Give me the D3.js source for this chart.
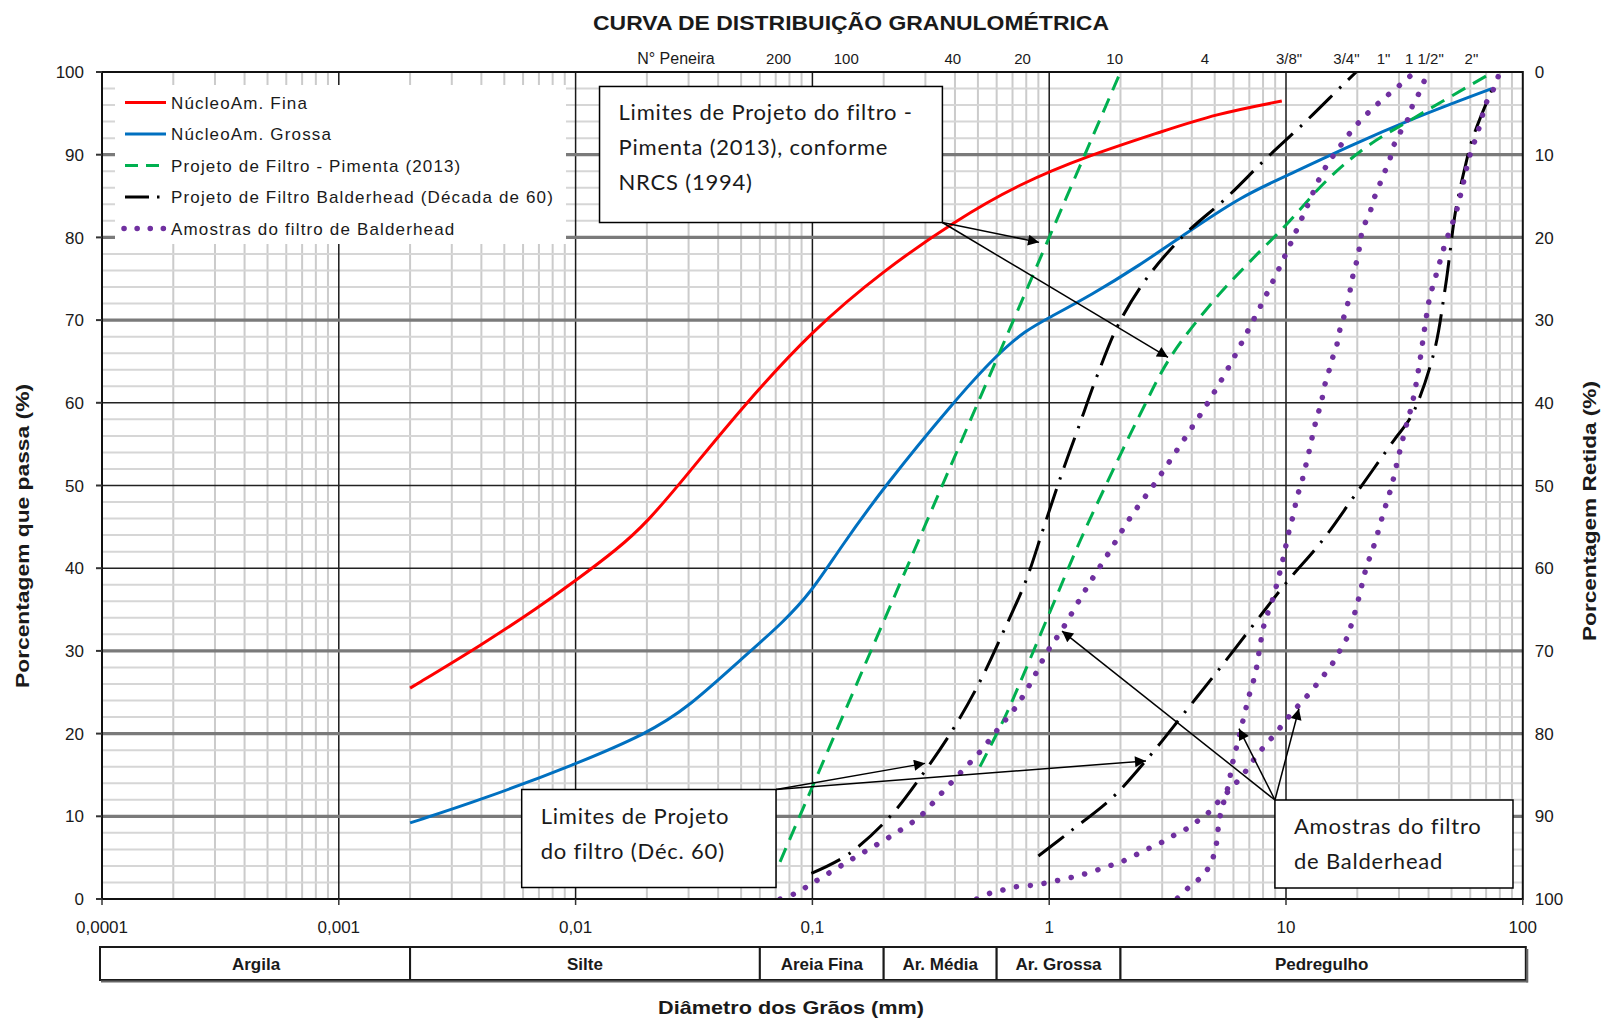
<!DOCTYPE html>
<html>
<head>
<meta charset="utf-8">
<script src="https://cdn.jsdelivr.net/npm/d3@7"></script>
<style>
  body { margin: 0; background: #fff; }
  text { font-family: "Liberation Sans", Arial, sans-serif; fill: #1a1a1a; }
  .note text { font-family: Lato, "Open Sans", sans-serif; font-size: 22px; letter-spacing: 0.8px; }
</style>
</head>
<body>
<div id="chart"></div>
<script>
"use strict";

// ---- data: diametro (mm), porcentagem que passa (%) ----
var nucleoFina = [[0.002,25.5],[0.004,30.7],[0.007,35.3],[0.01,38.5],[0.015,42.3],[0.02,45.5],[0.03,51.5],
  [0.05,59.3],[0.1,68.8],[0.2,76],[0.4,82],[0.75,86.5],[1.5,90],[3,92.8],[5,94.9],[9.6,96.5]];

var nucleoGrossa = [[0.002,9.2],[0.004,12],[0.01,16.3],[0.02,20],[0.03,23.2],[0.05,29],
  [0.075,33.4],[0.1,37.3],[0.13,42.3],[0.2,49.8],[0.4,60.3],[0.6,65.8],[0.8,68.8],[1.0,70.3],
  [1.5,73],[2.4,76.6],[3.7,80.3],[6.5,85],[10,87.4],[18,90.9],[35,94.5],[74,98]];

var pimentaFino = [[0.073,4.5],[1.0,80],[2.0,100]];

var pimentaGrosso = [[0.51,16],[0.65,22],[0.77,26.8],[1.0,34.5],[1.36,43.5],[1.72,49.8],[2.41,58.5],
  [3.25,65.5],[5,72.5],[7,77],[10,81.5],[15,87],[22,91],[35,94.5],[75,100]];

var balderFino = [[0.099,3.1],[0.14,5.3],[0.21,9.8],[0.294,15.2],[0.394,20.6],[0.51,26.3],[0.64,32.3],
  [0.8,38.6],[0.945,44.8],[1.12,51.1],[1.34,57.3],[1.61,63.6],[1.97,69.6],[2.62,75.3],[3.72,80.3],
  [5.56,84.7],[8.15,89.4],[12,93.9],[17.6,98.6],[19.8,100]];

var balderGrosso = [[0.9,5.2],[1.23,8.2],[1.87,12.4],[2.66,17.3],[3.72,22.5],[5.19,27.7],[7.26,33.1],
  [10,38.2],[14.2,43.3],[19.4,48.7],[28.6,55.5],[34,58.5],[42,65.9],[47.1,74],[52.1,83.3],
  [56.6,88.1],[61.6,92.1],[74,97.8]];

var amostra1 = [[0.073,0],[0.085,0.7],[0.096,1.6],[0.108,2.5],[0.137,4.3],[0.175,6.1],[0.223,7.9],
  [0.285,10],[0.346,12.6],[0.42,15.2],[0.51,17.8],[0.61,20.6],[0.735,23.5],[0.849,26.5],[0.977,29.8],
  [1.135,32.6],[1.41,37.2],[1.77,41.7],[2.21,46.2],[2.83,50.5],[3.6,55],[4.54,59.4],[5.65,64],
  [6.9,68.7],[8.4,73.5],[10.06,78.2],[12,83.1],[14.3,87.9],[16.7,90.8],[20,93.7],[24.5,96.2],
  [30.5,98.5],[34,99.7]];

var amostra2 = [[0.494,0],[0.563,0.7],[0.64,1.1],[0.73,1.5],[0.869,1.7],[0.993,2.0],[1.15,2.4],
  [1.32,2.8],[1.52,3.3],[1.74,3.9],[1.98,4.4],[2.27,5.2],[2.58,6.0],[2.92,6.7],[3.31,7.6],[3.76,8.4],
  [4.22,9.4],[4.73,10.5],[5.19,11.8],[5.74,13.1],[6.31,14.4],[6.9,15.8],[7.5,17.3],[8.24,18.7],
  [9.02,20],[9.86,21.4],[10.8,22.8],[11.9,24.1],[13.0,25.4],[14.2,26.8],[15.5,28.2],[16.7,29.8],
  [17.9,31.3],[18.8,33],[20.3,36.4],[21.7,39.8],[23.8,43.2],[25.8,46.7],[27.9,49.9],[29.8,53.4],
  [31.9,56.8],[34.3,60.2],[36.5,64.5],[38.6,69.2],[40.3,72.5],[43.4,75.8],[47.1,79.3],[52.1,82.9],
  [55.7,86.2],[59.2,89.5],[64.8,92.9],[70.4,96.4],[76,98.2],[79,99.6]];

var amostra3 = [[3.48,0.1],[3.85,1.3],[4.29,2.4],[4.7,3.75],[4.97,5.4],[5.11,7.1],[5.19,8.9],
  [5.32,10.6],[5.52,12.2],[5.74,14],[5.9,16],[6.1,17.7],[6.31,19.4],[6.52,21.1],[6.74,22.8],
  [6.97,24.5],[7.26,26.2],[7.5,27.9],[7.76,30.5],[8.07,33.1],[8.43,34.8],[8.87,36.6],[9.17,38.2],
  [9.48,39.8],[9.8,41.6],[10.07,43.2],[10.4,45],[10.8,46.7],[11.1,48.5],[11.6,50.2],[12,51.9],
  [12.4,53.6],[12.8,55.4],[13.2,57.1],[13.7,58.8],[14.2,60.5],[14.6,62.2],[15.2,63.9],[15.8,65.6],
  [16.5,67.3],[17,69.2],[17.7,70.7],[18.4,72.5],[18.8,74.2],[19.4,76],[20.1,77.6],[20.6,79.5],
  [21.1,81.1],[22.5,82.8],[23.4,84.5],[24.7,86.2],[26,87.8],[27.4,89.4],[28.6,91.2],[30.5,92.8],
  [32.7,94.3],[34.3,96],[36.7,97.6],[38.8,99.3]];

var legendLabels = ["NúcleoAm. Fina", "NúcleoAm. Grossa", "Projeto de Filtro - Pimenta (2013)",
  "Projeto de Filtro Balderhead (Década de 60)", "Amostras do filtro de Balderhead"];

// sieve numbers and where their labels sit on the diameter axis (mm)
var sieveLabels = ["200", "100", "40", "20", "10", "4", "3/8\"", "3/4\"", "1\"", "1 1/2\"", "2\""];
var sieveLabelAt = [0.072, 0.139, 0.392, 0.772, 1.89, 4.55, 10.3, 18, 25.8, 38.4, 60.7];

var xTickValues = [0.0001, 0.001, 0.01, 0.1, 1, 10, 100];
var xTickLabels = ["0,0001", "0,001", "0,01", "0,1", "1", "10", "100"];
var yTickValues = [0, 10, 20, 30, 40, 50, 60, 70, 80, 90, 100];

var soilClasses = ["Argila", "Silte", "Areia Fina", "Ar. Média", "Ar. Grossa", "Pedregulho"];
var soilLimits = [0.0001, 0.002, 0.06, 0.2, 0.6, 2, 100];

// ---- layout ----
var width = 1607, height = 1022;
var plot = { left: 102, right: 1522.8, top: 72, bottom: 899 };

var x = d3.scaleLog().domain([0.0001, 100]).range([plot.left, plot.right]);
var y = d3.scaleLinear().domain([0, 100]).range([plot.bottom, plot.top]);

var styles = {
  fina:    { stroke: "#ff0000", width: 3, dash: null, cap: "butt", smooth: true },
  grossa:  { stroke: "#0070c0", width: 3, dash: null, cap: "butt", smooth: true },
  pimenta: { stroke: "#00b050", width: 3, dash: "15,9", cap: "butt" },
  balder:  { stroke: "#000000", width: 3, dash: "32,10,2.5,10", cap: "butt" },
  amostra: { stroke: "#7030a0", width: 5.5, dash: "0.1,13.8", cap: "round" }
};
var legendStyles = ["fina", "grossa", "pimenta", "balder", "amostra"];

var series = [
  { data: nucleoFina, style: "fina" },
  { data: nucleoGrossa, style: "grossa" },
  { data: pimentaFino, style: "pimenta" },
  { data: pimentaGrosso, style: "pimenta" },
  { data: balderFino, style: "balder" },
  { data: balderGrosso, style: "balder" },
  { data: amostra1, style: "amostra" },
  { data: amostra2, style: "amostra" },
  { data: amostra3, style: "amostra" }
];

var svg = d3.select("#chart").append("svg")
  .attr("width", width)
  .attr("height", height)
  .style("display", "block");

var defs = svg.append("defs");
defs.append("clipPath").attr("id", "plotclip")
  .append("rect")
  .attr("x", plot.left).attr("y", plot.top)
  .attr("width", plot.right - plot.left).attr("height", plot.bottom - plot.top);
defs.append("marker")
  .attr("id", "arrow")
  .attr("viewBox", "0 0 10 10")
  .attr("refX", 10).attr("refY", 5)
  .attr("markerUnits", "userSpaceOnUse")
  .attr("markerWidth", 15).attr("markerHeight", 11)
  .attr("orient", "auto")
  .append("path").attr("d", "M0,0 L10,5 L0,10 z").attr("fill", "#000");

// ---- grid ----
var grid = svg.append("g");

var minorX = [];
xTickValues.slice(0, -1).forEach(function(d) {
  for (var k = 2; k <= 9; k++) minorX.push(d * k);
});
grid.selectAll(".minorx").data(minorX).enter().append("line")
  .attr("x1", function(d) { return x(d); }).attr("x2", function(d) { return x(d); })
  .attr("y1", plot.top).attr("y2", plot.bottom)
  .attr("stroke", "#cbcbcb").attr("stroke-width", 2);

var minorY = d3.range(2, 100, 2).filter(function(d) { return d % 10 !== 0; });
grid.selectAll(".minory").data(minorY).enter().append("line")
  .attr("x1", plot.left).attr("x2", plot.right)
  .attr("y1", function(d) { return y(d); }).attr("y2", function(d) { return y(d); })
  .attr("stroke", "#d6d6d6").attr("stroke-width", 2);

grid.selectAll(".majorx").data(xTickValues.slice(1, -1)).enter().append("line")
  .attr("x1", function(d) { return x(d); }).attr("x2", function(d) { return x(d); })
  .attr("y1", plot.top).attr("y2", plot.bottom)
  .attr("stroke", "#1a1a1a").attr("stroke-width", 1.5);

// the scan shows 40-60 as thin dark lines and the others as thick grey ones
grid.selectAll(".majory").data(yTickValues.slice(1, -1)).enter().append("line")
  .attr("x1", plot.left).attr("x2", plot.right)
  .attr("y1", function(d) { return y(d); }).attr("y2", function(d) { return y(d); })
  .attr("stroke", function(d) { return (d >= 40 && d <= 60) ? "#222" : "#7a7a7a"; })
  .attr("stroke-width", function(d) { return (d >= 40 && d <= 60) ? 1.6 : 3.2; });

// ---- curves ----
var line = d3.line()
  .x(function(d) { return x(d[0]); })
  .y(function(d) { return y(d[1]); })
  .curve(d3.curveCatmullRom.alpha(0.5));
var smoothLine = d3.line()
  .x(function(d) { return x(d[0]); })
  .y(function(d) { return y(d[1]); })
  .curve(d3.curveBasis);

svg.append("g").attr("clip-path", "url(#plotclip)")
  .selectAll("path").data(series).enter().append("path")
  .attr("d", function(d) { return styles[d.style].smooth ? smoothLine(d.data) : line(d.data); })
  .attr("fill", "none")
  .attr("stroke", function(d) { return styles[d.style].stroke; })
  .attr("stroke-width", function(d) { return styles[d.style].width; })
  .attr("stroke-dasharray", function(d) { return styles[d.style].dash; })
  .attr("stroke-linecap", function(d) { return styles[d.style].cap; });

// ---- frame + ticks ----
svg.append("rect")
  .attr("x", plot.left).attr("y", plot.top)
  .attr("width", plot.right - plot.left).attr("height", plot.bottom - plot.top)
  .attr("fill", "none").attr("stroke", "#111").attr("stroke-width", 2);

svg.append("g").selectAll("line").data(yTickValues).enter().append("line")
  .attr("x1", plot.left - 6).attr("x2", plot.left)
  .attr("y1", function(d) { return y(d); }).attr("y2", function(d) { return y(d); })
  .attr("stroke", "#333").attr("stroke-width", 2);

svg.append("g").selectAll("line").data(xTickValues).enter().append("line")
  .attr("x1", function(d) { return x(d); }).attr("x2", function(d) { return x(d); })
  .attr("y1", plot.bottom).attr("y2", plot.bottom + 6)
  .attr("stroke", "#333").attr("stroke-width", 1.5);

svg.append("g").selectAll("text").data(yTickValues).enter().append("text")
  .attr("x", plot.left - 18).attr("y", function(d) { return y(d); })
  .attr("dy", "0.36em").attr("text-anchor", "end").style("font-size", "17px")
  .text(function(d) { return d; });

svg.append("g").selectAll("text").data(yTickValues).enter().append("text")
  .attr("x", plot.right + 12).attr("y", function(d) { return y(d); })
  .attr("dy", "0.36em").attr("text-anchor", "start").style("font-size", "17px")
  .text(function(d) { return 100 - d; });

svg.append("g").selectAll("text").data(xTickValues).enter().append("text")
  .attr("x", function(d) { return x(d); }).attr("y", plot.bottom + 34)
  .attr("text-anchor", "middle").style("font-size", "17px")
  .text(function(d, i) { return xTickLabels[i]; });

// sieve numbers along the top
svg.append("text").attr("x", 676).attr("y", 64)
  .attr("text-anchor", "middle").style("font-size", "16px").text("N° Peneira");
svg.append("g").selectAll("text").data(sieveLabelAt).enter().append("text")
  .attr("x", function(d) { return x(d); }).attr("y", 64)
  .attr("text-anchor", "middle").style("font-size", "15px")
  .text(function(d, i) { return sieveLabels[i]; });

// ---- titles ----
svg.append("text").attr("x", 851).attr("y", 30)
  .attr("text-anchor", "middle").style("font-size", "20px").style("font-weight", "bold")
  .attr("textLength", 516).attr("lengthAdjust", "spacingAndGlyphs")
  .text("CURVA DE DISTRIBUIÇÃO GRANULOMÉTRICA");

svg.append("text").attr("transform", "translate(29,536) rotate(-90)")
  .attr("text-anchor", "middle").style("font-size", "18px").style("font-weight", "bold")
  .attr("textLength", 304).attr("lengthAdjust", "spacingAndGlyphs")
  .text("Porcentagem que passa (%)");

svg.append("text").attr("transform", "translate(1596,511) rotate(-90)")
  .attr("text-anchor", "middle").style("font-size", "18px").style("font-weight", "bold")
  .attr("textLength", 260).attr("lengthAdjust", "spacingAndGlyphs")
  .text("Porcentagem Retida (%)");

svg.append("text").attr("x", 791).attr("y", 1014)
  .attr("text-anchor", "middle").style("font-size", "19px").style("font-weight", "bold")
  .attr("textLength", 266).attr("lengthAdjust", "spacingAndGlyphs")
  .text("Diâmetro dos Grãos (mm)");

// ---- soil classification bar ----
var bar = svg.append("g");
var barTop = 947, barH = 33;
bar.selectAll("rect").data(soilClasses).enter().append("rect")
  .attr("x", function(d, i) { return x(soilLimits[i]) + (i === 0 ? -2 : 0); })
  .attr("y", barTop)
  .attr("width", function(d, i) {
    return x(soilLimits[i + 1]) - x(soilLimits[i]) + (i === 0 ? 2 : 0) + (i === soilClasses.length - 1 ? 3 : 0);
  })
  .attr("height", barH)
  .attr("fill", "#fff").attr("stroke", "#1a1a1a").attr("stroke-width", 2);
bar.append("line")
  .attr("x1", x(0.0001) - 1).attr("x2", x(100) + 5)
  .attr("y1", barTop + barH + 1.5).attr("y2", barTop + barH + 1.5)
  .attr("stroke", "#666").attr("stroke-width", 2);
bar.append("line")
  .attr("x1", x(100) + 4.5).attr("x2", x(100) + 4.5)
  .attr("y1", barTop + 2).attr("y2", barTop + barH + 2.5)
  .attr("stroke", "#666").attr("stroke-width", 2);
bar.selectAll("text").data(soilClasses).enter().append("text")
  .attr("x", function(d, i) { return (x(soilLimits[i]) + x(soilLimits[i + 1])) / 2; })
  .attr("y", barTop + 23)
  .attr("text-anchor", "middle").style("font-size", "17px").style("font-weight", "bold")
  .text(function(d) { return d; });

// ---- legend ----
var legend = svg.append("g");
legend.append("rect").attr("x", 115).attr("y", 85).attr("width", 451).attr("height", 159)
  .attr("fill", "#fff");
var rows = legend.selectAll("g").data(legendLabels).enter().append("g")
  .attr("transform", function(d, i) { return "translate(0," + (102.5 + i * 31.5) + ")"; });
rows.append("line")
  .attr("x1", function(d, i) { return legendStyles[i] === "amostra" ? 124 : 125; })
  .attr("x2", 166).attr("y1", 0).attr("y2", 0)
  .attr("stroke", function(d, i) { return styles[legendStyles[i]].stroke; })
  .attr("stroke-width", function(d, i) { return styles[legendStyles[i]].width; })
  .attr("stroke-linecap", function(d, i) { return styles[legendStyles[i]].cap; })
  .attr("stroke-dasharray", function(d, i) {
    var s = legendStyles[i];
    if (s === "pimenta") return "13,8";
    if (s === "balder") return "24,8,2.5,8";
    if (s === "amostra") return "0.1,13";
    return null;
  });
rows.append("text").attr("x", 171).attr("dy", "0.36em")
  .style("font-size", "17px").style("letter-spacing", "1.15px")
  .text(function(d) { return d; });

// ---- annotation boxes (placed in data units) ----
var notes = [
  { lines: ["Limites de Projeto do filtro -", "Pimenta (2013), conforme", "NRCS (1994)"],
    x0: 0.01262, x1: 0.354, y0: 98.25, y1: 81.8, from: "br",
    targets: [[0.906, 79.4], [3.175, 65.5]] },
  { lines: ["Limites de Projeto", "do filtro (Déc. 60)"],
    x0: 0.00592, x1: 0.0702, y0: 13.24, y1: 1.39, from: "tr",
    targets: [[0.299, 16.4], [2.563, 16.7]] },
  { lines: ["Amostras do filtro", "de Balderhead"],
    x0: 8.98, x1: 90.9, y0: 11.97, y1: 1.33, from: "tl",
    targets: [[1.133, 32.4], [6.33, 20.6], [11.34, 23]] }
];

notes.forEach(function(n) {
  var g = svg.append("g").attr("class", "note");
  var bx0 = x(n.x0), bx1 = x(n.x1), by0 = y(n.y0), by1 = y(n.y1);
  var sx = n.from === "tl" ? bx0 : bx1;
  var sy = n.from === "br" ? by1 : by0;
  g.selectAll("line").data(n.targets).enter().append("line")
    .attr("x1", sx).attr("y1", sy)
    .attr("x2", function(d) { return x(d[0]); })
    .attr("y2", function(d) { return y(d[1]); })
    .attr("stroke", "#000").attr("stroke-width", 1.5)
    .attr("marker-end", "url(#arrow)");
  g.append("rect")
    .attr("x", bx0).attr("y", by0).attr("width", bx1 - bx0).attr("height", by1 - by0)
    .attr("fill", "#fff").attr("stroke", "#000").attr("stroke-width", 1.5);
  g.selectAll("text").data(n.lines).enter().append("text")
    .attr("x", bx0 + 19)
    .attr("y", function(d, i) { return by0 + 34 + i * 35; })
    .text(function(d) { return d; });
});
</script>
</body>
</html>
